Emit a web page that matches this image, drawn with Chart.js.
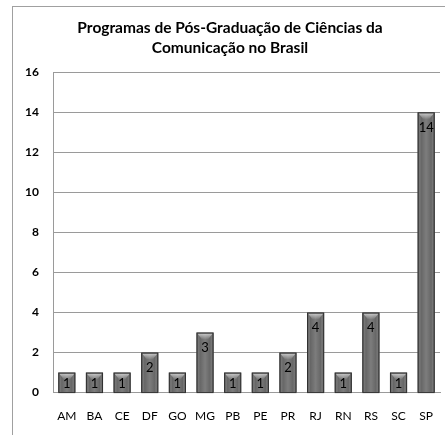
<!DOCTYPE html>
<html>
<head>
<meta charset="utf-8">
<script src="https://cdn.jsdelivr.net/npm/chart.js@4/dist/chart.umd.min.js"></script>
<style>
  html, body { margin: 0; padding: 0; background: #fff; }
  #wrap { position: relative; width: 445px; height: 435px; overflow: hidden; }
  #frame { position: absolute; left: 12px; top: 6px; width: 440px; height: 440px; border: 1px solid #a0a0a0; box-sizing: border-box; }
  canvas { position: absolute; left: 0; top: 0; }
</style>
</head>
<body>
<div id="wrap">
  <div id="frame"></div>
  <canvas id="chart" width="445" height="435"></canvas>
</div>
<script>
// dados do gráfico
const estados = ['AM', 'BA', 'CE', 'DF', 'GO', 'MG', 'PB', 'PE', 'PR', 'RJ', 'RN', 'RS', 'SC', 'SP'];
const programas = [1, 1, 1, 2, 1, 3, 1, 1, 2, 4, 1, 4, 1, 14];
const yTicks = [0, 2, 4, 6, 8, 10, 12, 14, 16];
const titulo = ['Programas de Pós-Graduação de Ciências da', 'Comunicação no Brasil'];

// sombreado das barras + rótulos de valor
const barLook = {
    id: 'barLook',
    afterDatasetsDraw(chart) {
        const ctx = chart.ctx;
        const meta = chart.getDatasetMeta(0);
        meta.data.forEach((bar, i) => {
            const left = bar.x - bar.width / 2;
            const right = bar.x + bar.width / 2;
            const top = bar.y;
            const bottom = bar.base;
            const g = ctx.createLinearGradient(left, 0, right, 0);
            g.addColorStop(0, 'rgba(40,40,40,0.55)');
            g.addColorStop(0.2, 'rgba(255,255,255,0.0)');
            g.addColorStop(0.5, 'rgba(255,255,255,0.15)');
            g.addColorStop(0.8, 'rgba(255,255,255,0.0)');
            g.addColorStop(1, 'rgba(40,40,40,0.55)');
            ctx.save();
            ctx.fillStyle = g;
            ctx.fillRect(left + 1, top + 1, right - left - 2, bottom - top - 1);
            // tampa superior mais clara
            const cap = ctx.createLinearGradient(0, top, 0, top + 7);
            cap.addColorStop(0, 'rgba(230,230,230,0.85)');
            cap.addColorStop(1, 'rgba(230,230,230,0)');
            ctx.fillStyle = cap;
            ctx.beginPath();
            ctx.moveTo(left + 1, top + 1);
            ctx.lineTo(right - 1, top + 1);
            ctx.lineTo(bar.x + 3, top + 7);
            ctx.lineTo(bar.x - 3, top + 7);
            ctx.closePath();
            ctx.fill();
            ctx.strokeStyle = '#303030';
            ctx.lineWidth = 1;
            ctx.strokeRect(left + 0.5, top + 0.5, right - left - 1, bottom - top);
            ctx.fillStyle = '#000';
            ctx.font = '13px Lato';
            ctx.textAlign = 'center';
            ctx.textBaseline = 'middle';
            const ly = programas[i] === 1 ? (top + bottom) / 2 + 1 : top + 15;
            ctx.fillText(String(programas[i]), bar.x, ly);
            ctx.restore();
        });
    }
};

new Chart(document.getElementById('chart'), {
    type: 'bar',
    data: {
        labels: estados,
        datasets: [{
            data: programas,
            backgroundColor: '#666666',
            borderWidth: 0,
            categoryPercentage: 1,
            barPercentage: 0.62
        }]
    },
    options: {
        responsive: false,
        animation: false,
        layout: { padding: { left: 20, right: 5, top: 14, bottom: 4 } },
        plugins: {
            legend: { display: false },
            tooltip: { enabled: false },
            title: {
                display: true,
                text: titulo,
                color: '#000',
                font: { family: 'Lato', size: 15.5, weight: 'bold', lineHeight: 1.3 },
                padding: { top: 4, bottom: 14 }
            }
        },
        scales: {
            x: {
                grid: { display: false },
                border: { color: '#9a9a9a', width: 1 },
                ticks: { color: '#000', font: { family: 'Lato', size: 12 }, padding: 8, maxRotation: 0, autoSkip: false }
            },
            y: {
                min: 0,
                max: 16,
                afterBuildTicks(axis) { axis.ticks = yTicks.map(v => ({ value: v })); },
                afterFit(axis) { axis.width = 33; },
                grid: { color: '#9a9a9a', lineWidth: 1, drawTicks: false },
                border: { color: '#9a9a9a', width: 1 },
                ticks: { color: '#000', font: { family: 'Lato', size: 12, weight: 'bold' }, padding: 14 }
            }
        }
    },
    plugins: [barLook]
});
</script>
</body>
</html>
